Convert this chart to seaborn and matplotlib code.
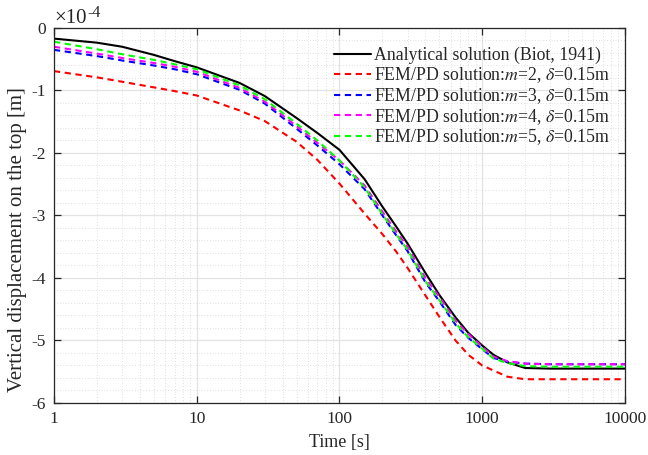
import numpy as np
import pandas as pd
import seaborn as sns
import matplotlib.pyplot as plt
from matplotlib.ticker import MultipleLocator, FixedLocator, FuncFormatter, LogLocator, NullFormatter

sns.set_style('ticks')
plt.rcParams['font.family'] = ['Liberation Serif', 'DejaVu Serif']
plt.rcParams['mathtext.fontset'] = 'stix'
plt.rcParams['axes.unicode_minus'] = False

# time [s] and vertical displacement (x 1e-4 m)
time = [1, 2, 3, 5, 7, 10, 20, 30, 50, 70, 100, 150, 200, 250, 300,
        400, 500, 650, 800, 1000, 1200, 1500, 2000, 3000, 5000, 10000]
u_biot = [-0.17, -0.235, -0.30, -0.43, -0.53, -0.63, -0.88, -1.09, -1.44, -1.68, -1.95, -2.42, -2.86,
          -3.18, -3.45, -3.92, -4.27, -4.63, -4.88, -5.08, -5.23, -5.35, -5.44, -5.45, -5.45, -5.45]
u_m2 = [-0.69, -0.79, -0.86, -0.95, -1.01, -1.08, -1.32, -1.49, -1.82, -2.11, -2.49, -2.97, -3.30,
        -3.58, -3.84, -4.28, -4.62, -5.00, -5.23, -5.40, -5.48, -5.58, -5.62, -5.62, -5.62, -5.62]
u_m3 = [-0.35, -0.45, -0.52, -0.60, -0.66, -0.74, -0.99, -1.21, -1.61, -1.88, -2.18, -2.58, -3.00,
        -3.32, -3.57, -4.07, -4.37, -4.75, -4.96, -5.14, -5.28, -5.34, -5.37, -5.38, -5.38, -5.38]
u_m4 = [-0.30, -0.41, -0.48, -0.56, -0.62, -0.70, -0.96, -1.18, -1.57, -1.84, -2.12, -2.52, -2.94,
        -3.26, -3.50, -4.00, -4.30, -4.68, -4.90, -5.10, -5.26, -5.33, -5.37, -5.38, -5.38, -5.38]
u_m5 = [-0.22, -0.34, -0.42, -0.51, -0.58, -0.66, -0.92, -1.14, -1.53, -1.80, -2.12, -2.55, -2.98,
        -3.30, -3.55, -4.05, -4.35, -4.72, -4.95, -5.13, -5.29, -5.36, -5.41, -5.42, -5.42, -5.42]

labels = ['Analytical solution (Biot, 1941)',
          'FEM/PD solution:$m$=2, $\\delta$=0.15m',
          'FEM/PD solution:$m$=3, $\\delta$=0.15m',
          'FEM/PD solution:$m$=4, $\\delta$=0.15m',
          'FEM/PD solution:$m$=5, $\\delta$=0.15m']
colors = ['black', '#ff0000', '#0000ff', '#ff00ff', '#00ff00']

frames = []
for lab, vals in zip(labels, [u_biot, u_m2, u_m3, u_m4, u_m5]):
    frames.append(pd.DataFrame({'Time': time, 'u': np.array(vals) * 1e-4, 'Series': lab}))
df = pd.concat(frames, ignore_index=True)

fig = plt.figure(figsize=(6.48, 4.55), dpi=100)
ax = fig.add_axes([0.0833, 0.1143, 0.8812, 0.8242])

dashes = {lab: ('' if i == 0 else (3, 2.2)) for i, lab in enumerate(labels)}
sns.lineplot(data=df, x='Time', y='u', hue='Series', style='Series',
             palette=dict(zip(labels, colors)), dashes=dashes,
             hue_order=labels, style_order=labels, lw=1.5, ax=ax)

ax.set_xscale('log')
ax.set_xlim(1, 10000)
ax.set_ylim(-6e-4, 0)
ax.xaxis.set_major_locator(FixedLocator([1, 10, 100, 1000, 10000]))
ax.xaxis.set_major_formatter(FuncFormatter(lambda v, p: '%d' % v))
ax.xaxis.set_minor_locator(LogLocator(base=10, subs=np.arange(2, 10)))
ax.xaxis.set_minor_formatter(NullFormatter())
ax.yaxis.set_major_locator(MultipleLocator(1e-4))
ax.yaxis.set_minor_locator(MultipleLocator(0.2e-4))
ax.yaxis.set_major_formatter(FuncFormatter(lambda v, p: '%d' % round(v * 1e4)))
# exponent label above the y axis
ax.text(0.0, 1.0, '×10', transform=ax.transAxes, fontsize=15,
        color='#262626', ha='left', va='bottom')
ax.text(0.059, 1.018, '-4', transform=ax.transAxes, fontsize=11.5,
        color='#262626', ha='left', va='bottom')

ax.grid(which='major', color='#e3e3e3', lw=0.9, ls='-')
ax.grid(which='minor', color='#c4c4c4', lw=0.5, ls=(0, (1, 3)))
ax.set_axisbelow(True)
ax.tick_params(which='major', direction='in', top=True, right=True, length=5,
               width=0.9, labelsize=12.5, colors='#262626', pad=6)
ax.tick_params(which='minor', length=0)
for s in ax.spines.values():
    s.set_linewidth(0.9)
    s.set_color('#262626')

ax.set_xlabel('Time [s]', fontsize=13, color='#262626', labelpad=5)
ax.set_ylabel('Vertical displacement on the top [m]', fontsize=15, color='#262626')
ax.yaxis.set_label_coords(-0.048, 0.437)

handles, labs = ax.get_legend_handles_labels()
ax.legend(handles, labs, loc='upper right', bbox_to_anchor=(0.986, 0.968),
          borderaxespad=0, frameon=False, fontsize=12.8,
          handlelength=2.1, handletextpad=0.15, labelspacing=0.05)

fig.savefig('out.png', dpi=100)
